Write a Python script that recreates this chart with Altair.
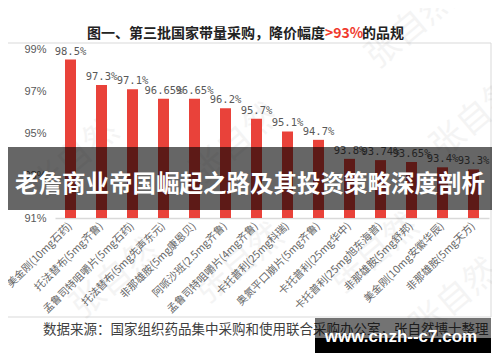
import altair as alt
import pandas as pd

names = [
    "美金刚(10mg石药)", "托法替布(5mg齐鲁)", "孟鲁司特咀嚼片(5mg石药)",
    "托法替布(5mg先声东元)", "非那雄胺(5mg康恩贝)", "阿哌沙班(2.5mg齐鲁)",
    "孟鲁司特咀嚼片(4mg齐鲁)", "卡托普利(25mg科瑞)", "奥氮平口崩片(5mg齐鲁)",
    "卡托普利(25mg华中)", "卡托普利(25mg旭东海普)", "非那雄胺(5mg舒邦)",
    "美金刚(10mg安徽华辰)", "非那雄胺(5mg天方)",
]
values = [98.5, 97.3, 97.1, 96.65, 96.65, 96.2, 95.7, 95.1, 94.7, 93.8, 93.74, 93.65, 93.4, 93.3]
y_ticks = [91, 93, 95, 97, 99]

title_left = "图一、第三批国家带量采购，降价幅度"
title_red = ">93%"
title_right = "的品规"
source_text = "数据来源：国家组织药品集中采购和使用联合采购办公室，张自然博士整理"
banner_text = "老詹商业帝国崛起之路及其投资策略深度剖析"
site_text = "www.cnzh--c7.com"
watermark = "张自然"

df = pd.DataFrame({"name": names, "value": values,
                   "label": [f"{v:g}%" for v in values]})
one = pd.DataFrame({"a": [0]})

W, H = 434, 169
GRAY = "#595959"

x_enc = alt.X("name:N", sort=None,
              scale=alt.Scale(paddingInner=0, paddingOuter=0),
              axis=alt.Axis(title=None, labelAngle=-45, labelAlign="right",
                            labelBaseline="middle", labelPadding=6,
                            labelFontSize=10.5, labelColor="#666666",
                            labelFont="Noto Sans CJK SC", labelLimit=300,
                            labelOverlap=False, ticks=False,
                            domainColor="#d9d9d9", domainWidth=1.5))
y_enc = alt.Y("value:Q", scale=alt.Scale(domain=[91, 99], zero=False, nice=False),
              axis=alt.Axis(title=None, values=y_ticks,
                            labelExpr="datum.value + '%'", domain=False,
                            ticks=False, grid=False, labelPadding=9,
                            labelFontSize=11, labelColor=GRAY,
                            labelFont="Liberation Sans"))

frame = alt.Chart(one).mark_rect(fillOpacity=0, stroke="#d9d9d9", strokeWidth=1).encode(
    x=alt.value(-51), x2=alt.value(436), y=alt.value(-6), y2=alt.value(268))

marks_wm = []
for (wx, wy) in [(20, 110), (180, 95), (355, -20), (60, 230), (185, 215), (320, 205), (400, 250), (420, 70)]:
    marks_wm.append(alt.Chart(one).mark_text(text=watermark, font="Noto Sans CJK SC",
                                             fontSize=34, angle=320, color="#000000",
                                             opacity=0.04).encode(
        x=alt.value(wx), y=alt.value(wy)))

bars = alt.Chart(df).mark_bar(size=11, color="#e9423a").encode(
    x=x_enc, y=y_enc, y2=alt.datum(91))

labels = alt.Chart(df).mark_text(baseline="bottom", dy=-3, font="DejaVu Sans Mono",
                                 fontSize=10.5, color=GRAY).encode(
    x=alt.X("name:N", sort=None), y="value:Q", text="label:N")

t1 = alt.Chart(one).mark_text(text=title_left, align="right", baseline="middle",
                              font="Noto Sans CJK SC", fontSize=14, fontWeight="bold",
                              color="#222222").encode(x=alt.value(270), y=alt.value(-15))
t2 = alt.Chart(one).mark_text(text=title_red, align="left", baseline="middle",
                              font="Noto Sans CJK SC", fontSize=14, fontWeight="bold",
                              color="#f03a2e").encode(x=alt.value(270), y=alt.value(-15))
t3 = alt.Chart(one).mark_text(text=title_right, align="left", baseline="middle",
                              font="Noto Sans CJK SC", fontSize=14, fontWeight="bold",
                              color="#222222").encode(x=alt.value(307), y=alt.value(-15))

src = alt.Chart(one).mark_text(text=source_text, align="left", baseline="middle",
                               font="Noto Sans CJK SC", fontSize=13.5,
                               color="#404040").encode(x=alt.value(-12), y=alt.value(281))

banner = alt.Chart(one).mark_rect(color="black", opacity=0.6).encode(
    x=alt.value(-60), x2=alt.value(450), y=alt.value(98), y2=alt.value(161))
banner_t = alt.Chart(one).mark_text(text=banner_text, align="center", baseline="middle",
                                    font="Noto Sans CJK SC", fontSize=23.5, fontWeight="bold",
                                    color="white").encode(x=alt.value(195), y=alt.value(136))

box1 = alt.Chart(one).mark_rect(color="black", opacity=0.55).encode(
    x=alt.value(260), x2=alt.value(436), y=alt.value(269), y2=alt.value(289))
box2 = alt.Chart(one).mark_rect(color="black").encode(
    x=alt.value(260), x2=alt.value(436), y=alt.value(289), y2=alt.value(304))
site_t = alt.Chart(one).mark_text(text=site_text, align="center", baseline="middle",
                                  font="Liberation Sans", fontSize=17, fontWeight="bold",
                                  color="white").encode(x=alt.value(346), y=alt.value(288))

chart = alt.layer(frame, *marks_wm, bars, labels, t1, t2, t3, src,
                  banner, banner_t, box1, box2, site_t).properties(
    width=W, height=H,
    autosize=alt.AutoSizeParams(type="none"),
    padding={"left": 47, "top": 41, "right": 3, "bottom": 136},
    background="white",
).configure_view(strokeWidth=0)

chart.save("out.html", embed_options={"renderer": "svg", "actions": False})
